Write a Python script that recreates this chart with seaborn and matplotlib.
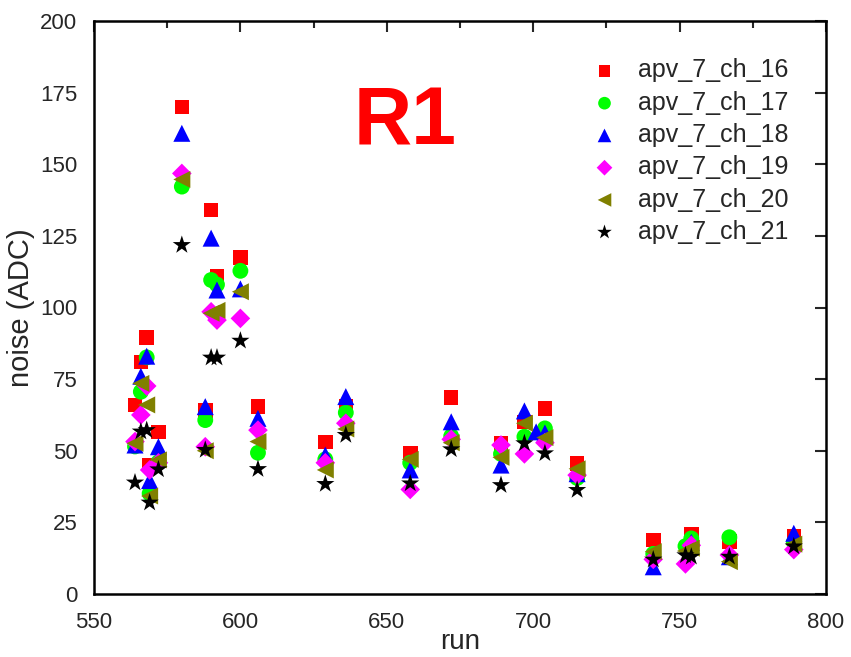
import numpy as np
import pandas as pd
import matplotlib
matplotlib.use("Agg")
import matplotlib.pyplot as plt
import seaborn as sns
from matplotlib.ticker import MultipleLocator

nan = np.nan
runs = [564, 566, 568, 569, 572, 580, 588, 590, 592, 600, 606, 629, 636, 658,
        672, 689, 697, 701, 704, 715, 741, 752, 754, 767, 789]

ch16 = [66, 81, 89.5, 45, 56.5, 170, 64, 134, 111, 117.5, 65.5, 53, 65.5, 49,
        68.5, 52.5, 60, nan, 64.8, 45.5, 18.8, nan, 21, 18.3, 20]
ch17 = [51.5, 70.6, 82.6, 35.1, 46, 142.2, 60.7, 109.6, 108, 112.8, 49.3, 47, 63.3, 45.8,
        55.1, 48.9, 54.9, nan, 57.8, 40.5, 14, 16.7, 19.4, 19.8, 18]
ch18 = [52, 76, 83, 39.6, 51.4, 160.8, 65.4, 124.2, 106.1, 106.5, 61.3, 48.5, 68.9, 43.3,
        60.1, 45, 63.9, 56.6, 56.2, 42, 9.5, nan, 18, 13, 21.2]
ch19 = [53.2, 62.5, 72.6, 43.3, 45.8, 146.8, 51.4, 98.5, 95.6, 96.2, 57.2, 45.8, 59.6, 36.5,
        54, 52, 48.9, nan, 52.8, 41.5, 12.1, 10.5, 17, 13.6, 15.5]
ch20 = [52.6, 73.5, 66, 34.2, 46.8, 144.7, 50, 98, 99, 105.5, 53.2, 43.3, 57.6, 47,
        52.8, 47.7, 59.6, nan, 54.6, 43.7, 14.8, 15, 16, 11.3, 17.4]
ch21 = [38.9, 56.7, 57.2, 31.9, 43.5, 121.8, 50.3, 82.5, 82.5, 88.4, 43.6, 38.4, 55.5, 38.6,
        50.5, 38, 52.6, nan, 49.1, 36.3, 12, 13.5, 13, 13, 16.6]

series_names = ["apv_7_ch_16", "apv_7_ch_17", "apv_7_ch_18",
                "apv_7_ch_19", "apv_7_ch_20", "apv_7_ch_21"]
series_values = [ch16, ch17, ch18, ch19, ch20, ch21]
colors = ["#FF0000", "#00FF00", "#0000FF", "#FF00FF", "#808000", "#000000"]
markers = ["s", "o", "^", "D", "<", "*"]
sizes = [110, 130, 150, 100, 150, 190]

rows = []
for name, vals in zip(series_names, series_values):
    for r, v in zip(runs, vals):
        rows.append({"run": r, "noise": v, "series": name})
df = pd.DataFrame(rows).dropna()

sns.set_style("white")
plt.rcParams["font.family"] = ["Liberation Sans", "DejaVu Sans"]

fig = plt.figure(figsize=(8.51, 6.57), dpi=100)
ax = fig.add_axes([94 / 851, 1 - 594 / 657, (826 - 94) / 851, (594 - 21) / 657])

for name, c, m, s in zip(series_names, colors, markers, sizes):
    sub = df[df["series"] == name]
    sns.scatterplot(data=sub, x="run", y="noise", color=c, marker=m, s=s,
                    edgecolor="none", linewidth=0, ax=ax, label=name, zorder=3)

ax.set_xlim(550, 800)
ax.set_ylim(0, 200)
ax.xaxis.set_major_locator(MultipleLocator(50))
ax.xaxis.set_minor_locator(MultipleLocator(25))
ax.yaxis.set_major_locator(MultipleLocator(25))
ax.tick_params(which="both", direction="in", top=True, right=True,
               width=1.5, labelsize=16)
ax.tick_params(axis="x", which="both", pad=13)
ax.tick_params(axis="y", which="both", pad=12)
ax.tick_params(which="major", length=8)
ax.tick_params(which="minor", length=5)
for sp in ax.spines.values():
    sp.set_linewidth(1.8)
    sp.set_color("black")

ax.set_xlabel("run", fontsize=20, labelpad=-3)
ax.set_ylabel("noise (ADC)", fontsize=21, labelpad=4)

ax.text(0.425, 0.784, "R1", transform=ax.transAxes, color="#FF0000",
        fontsize=58, fontweight="bold", ha="center", va="baseline")

handles, labels = ax.get_legend_handles_labels()
ax.legend(handles, labels, frameon=False, fontsize=18, loc="upper left",
          bbox_to_anchor=(577 / 851, 1 - 46 / 657), bbox_transform=fig.transFigure,
          borderpad=0, labelspacing=0.33, handletextpad=0.75, markerscale=0.8,
          handlelength=1.2)

fig.savefig("out.png", dpi=100)
